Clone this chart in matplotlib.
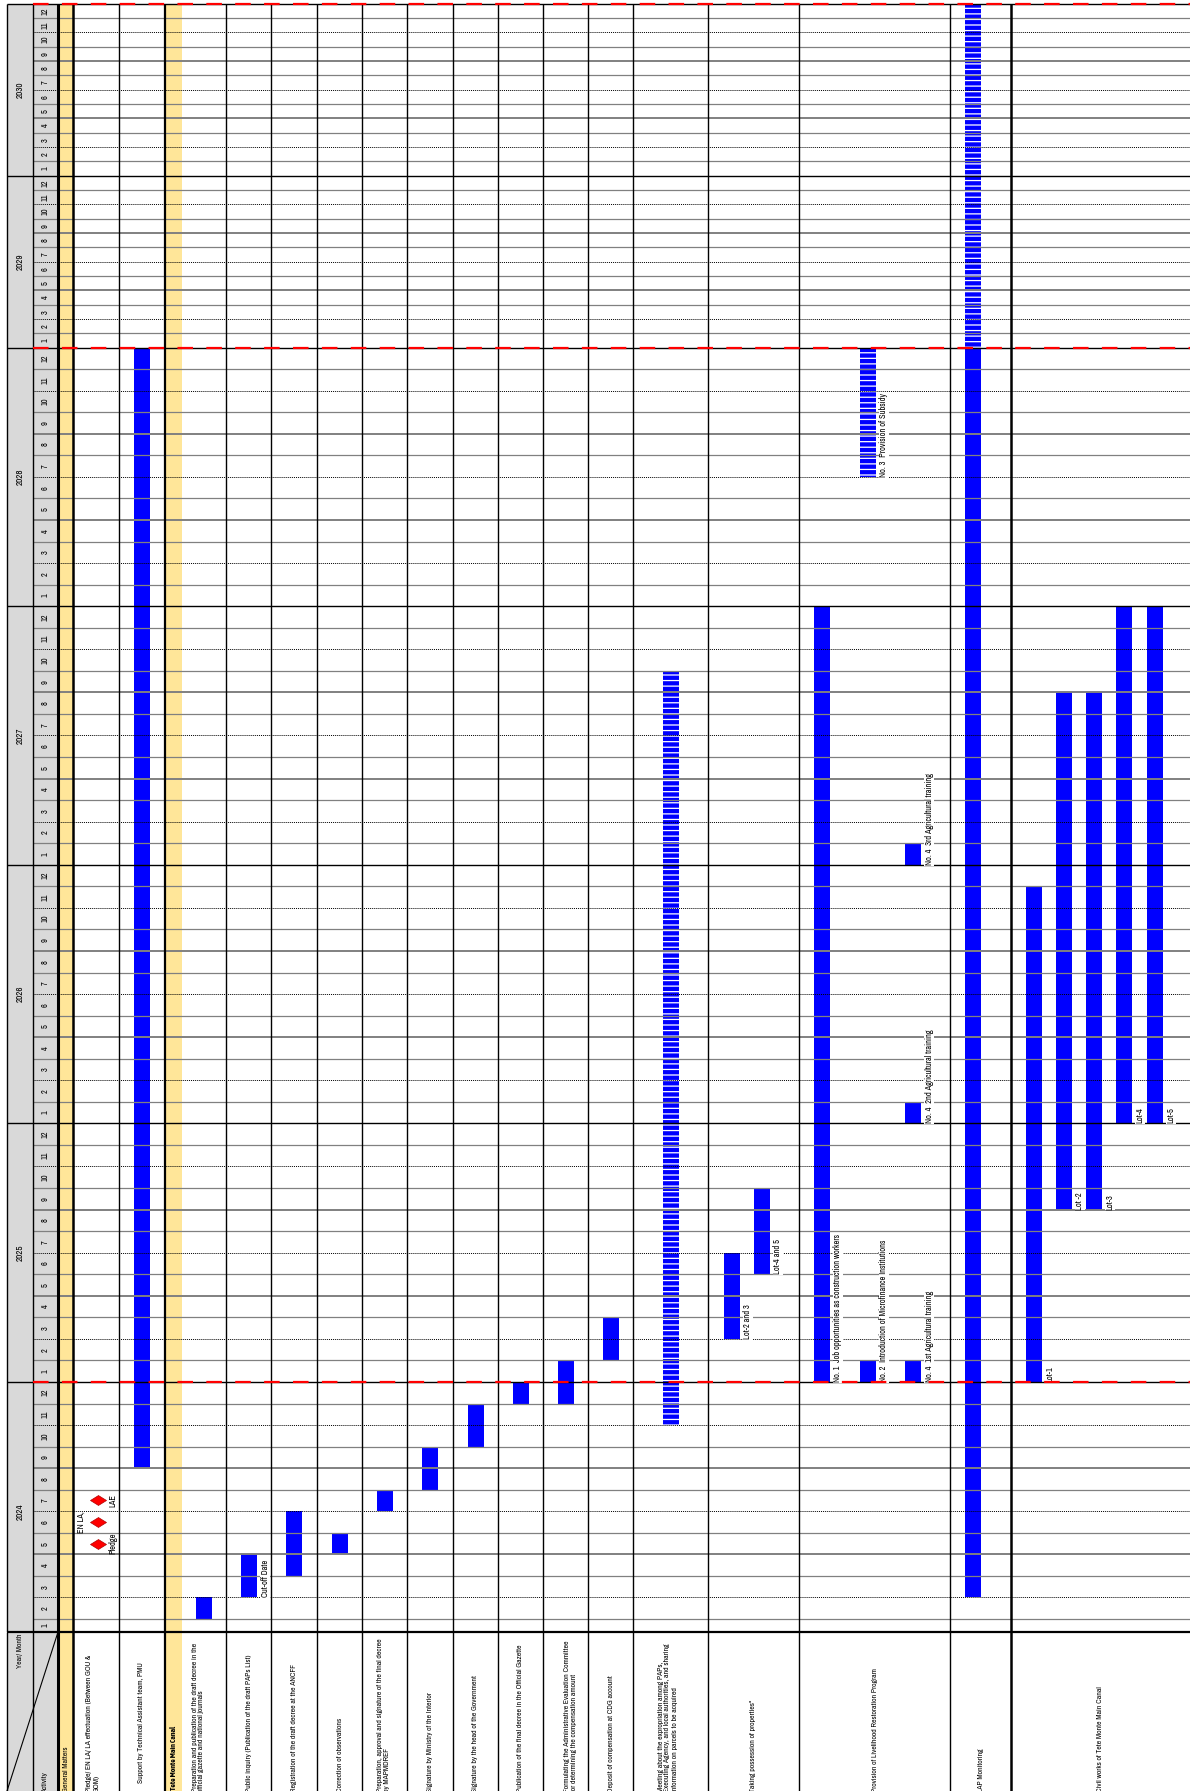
import numpy as np
import matplotlib
matplotlib.use("Agg")
import matplotlib.pyplot as plt
from matplotlib import font_manager
from matplotlib.path import Path

# ---------------- data ----------------
years = [2024, 2025, 2026, 2027, 2028, 2029, 2030]
month_numbers = list(range(1, 13))

activities = [
    "General Matters",
    "Pledge/ EN LA/ LA effectuation (Between GOU &\nGOM)",
    "Support by Technical Assistant team, PMU",
    "Tete Monte Main Canal",
    "Preparation and publication of the draft decree in the\nofficial gazette and national journals",
    "Public inquiry (Publication of the draft PAPs List)",
    "Registration of the draft decree at the ANCFF",
    "Correction of observations",
    "Preparation, approval and signature of the final decree\nby MAPMDREF",
    "Signature by Ministry of the Interior",
    "Signature by the head of the Government",
    "Publication of the final decree in the Official Gazette",
    "Formulating the Administrative Evaluation Committee\nfor determining the compensation amount",
    "Deposit of compensation at CDG account",
    "Meeting about the expropriation among PAPs,\nExecuting Agency, and local authorities, and sharing\ninformation on parcels to be acquired",
    "Taking possession of properties*",
    "Provision of Livelihood Restoration Program",
    "LAP Monitoring",
    "Civil works of Tete Monte Main Canal",
]
section_rows = [0, 3]

# months counted from the start of Jan 2024
task_activity = [2, 17, 17, 4, 5, 6, 7, 8, 9, 10, 11, 12, 13, 14, 15, 15,
                 16, 16, 16, 16, 16, 16, 18, 18, 18, 18, 18]
task_start = [8, 2, 60, 1, 2, 3, 4, 6, 7, 9, 11, 11, 13, 10, 14, 17,
              12, 12, 12, 24, 36, 54, 12, 20, 20, 24, 24]
task_end = [60, 60, 84, 2, 4, 6, 5, 7, 9, 11, 12, 13, 15, 45, 18, 21,
            48, 13, 13, 25, 37, 60, 35, 44, 44, 48, 48]
task_striped = [False, False, True, False, False, False, False, False, False, False, False, False, False, True, False, False,
                False, False, False, False, False, True, False, False, False, False, False]
task_label = ["", "", "", "", "Cut-off Date", "", "", "", "", "", "", "", "", "", "Lot-2 and 3", "Lot-4 and 5",
              "No. 1  Job opportunities as construction workers",
              "No. 2  Introduction of Microfinance Institutions",
              "No. 4  1st Agricultural training",
              "No. 4  2nd Agricultural training",
              "No. 4  3rd Agricultural training",
              "No. 3  Provision of Subsidy",
              "Lot-1", "Lot -2", "Lot-3", "Lot-4", "Lot-5"]

milestone_month = [5, 6, 7]          # 2024
milestone_label = ["Pledge", "EN LA,", "LAE"]

# ---------------- layout ----------------
W, H = 1190, 1791
HEADER_TOP = 1632
col_edges = [7, 33, 58, 73, 119, 165, 182, 226, 271, 317, 362, 407, 453, 498,
             543, 588, 633, 708, 799, 950, 1011, 1190]
edge_lw = [1.0, 1.0, 2.2, 1.8, 1.0, 1.6, 0, 1.0, 1.0, 1.0, 1.0, 1.0, 1.0, 1.0,
           1.0, 1.0, 1.0, 1.0, 1.0, 1.0, 1.8, 0]
label_dx = [0, -3, -1, 0, -6, 0, 0, 0, -1, 0, 0, 0, 5, 0, -3, 0, 0, 0, 0]
bar_x = [142, 973, 973, 204, 249, 294, 340, 385, 430, 475.5, 520.5, 565.5, 611, 671, 732, 762,
         822, 868, 913, 913, 913, 868, 1034, 1064, 1094, 1124, 1155]
BAR_W = 16
row_h = np.array([13.0] + [21.55] * 59 + [14.33] * 24)

GRAY = "#d9d9d9"
YELLOW = "#ffe699"
BLUE = "#0000ff"

names = {f.name for f in font_manager.fontManager.ttflist}
narrow = next((n for n in ["Archivo Narrow", "PT Sans Narrow", "Liberation Sans Narrow"] if n in names),
              "Liberation Sans")
bold_narrow = "Asap Condensed" if "Asap Condensed" in names else narrow
plt.rcParams["font.family"] = [narrow, "DejaVu Sans"]
plt.rcParams["hatch.linewidth"] = 0.9
FS = 6.0
HFS = 5.5

fig = plt.figure(figsize=(W / 100, H / 100), dpi=100)
ax = fig.add_axes([0, (H - HEADER_TOP) / H, 1, HEADER_TOP / H])
hx = fig.add_axes([0, 0, 1, (H - HEADER_TOP) / H])

# month index -> pixel height, so rows can have their own heights
edges_px = np.concatenate([[0.0], np.cumsum(row_h)])
knot_m = np.concatenate([[-50.0], np.arange(85.0), [150.0]])
knot_p = np.concatenate([[-50 * 21.55], edges_px, [edges_px[-1] + 66 * 14.33]])
ax.set_yscale("function", functions=(lambda m: np.interp(m, knot_m, knot_p),
                                     lambda p: np.interp(p, knot_p, knot_m)))

# background columns
ax.fill_betweenx([0, 84], 7, 58, color=GRAY, lw=0, zorder=0)
for r in section_rows:
    ax.fill_betweenx([0, 84], col_edges[r + 2], col_edges[r + 3], color=YELLOW, lw=0, zorder=0)

# bars
for a, s, e, st, bx in zip(task_activity, task_start, task_end, task_striped, bar_x):
    if st:
        ax.bar(bx, e - s, bottom=s, width=BAR_W, color=BLUE, edgecolor="white",
               linewidth=0, hatch="---", zorder=2)
    else:
        ax.bar(bx, e - s, bottom=s, width=BAR_W, color=BLUE, linewidth=0, zorder=2)

# month rows
for k in range(1, 84):
    if k % 12 == 0:
        continue
    if k % 4 == 2:
        ax.hlines(k, 33, W, color="black", lw=0.7, linestyles=(0, (1, 1)), zorder=3)
    elif k % 4 == 0:
        ax.hlines(k, 33, W, color="#808080", lw=1.4, zorder=3)
    else:
        ax.hlines(k, 33, W, color="#808080", lw=0.9, zorder=3)
for k in range(0, 85, 12):
    ax.hlines(k, 7, W, color="black", lw=1.6 if k == 0 else 1.0, zorder=3)

for x, lw in zip(col_edges, edge_lw):
    if lw:
        ax.vlines(x, 0, 84, color="black", lw=lw, zorder=3)
        hx.vlines(x, HEADER_TOP, H, color="black", lw=lw, zorder=3)

# red dashed markers
for k in (12, 60, 84):
    ax.hlines(k, 33, W, color="#ff0000", lw=1.6, linestyles=(0, (7, 6)), zorder=6)

# year / month labels
for i, y in enumerate(years):
    ax.text(20, 12 * i + 6, str(y), rotation=90, ha="center", va="center", fontsize=6.5)
    for j, m in enumerate(month_numbers):
        ax.text(45.5, 12 * i + j + 0.5, str(m), rotation=90, ha="center", va="center", fontsize=6)

# bar labels
for s, bx, lab in zip(task_start, bar_x, task_label):
    if lab:
        ax.text(bx + 16, s, lab, rotation=90, rotation_mode="anchor", ha="left", va="center",
                fontsize=FS, zorder=5,
                bbox=dict(boxstyle="square,pad=0.1", fc="white", ec="none"))

# milestones
diamond = Path([(-1, 0), (0, 0.62), (1, 0), (0, -0.62), (-1, 0)],
               [Path.MOVETO, Path.LINETO, Path.LINETO, Path.LINETO, Path.CLOSEPOLY])
mm = np.array(milestone_month) - 0.5
ax.plot([98] * len(mm), mm, ls="none", marker=diamond, ms=11.5, mfc="#ff0000",
        mec="#b00000", mew=0.5, zorder=5)
for m, lab, dx in zip(mm, milestone_label, [15, -17, 15]):
    ax.text(98 + dx, m, lab, rotation=90, ha="center", va="center", fontsize=FS, zorder=5)

ax.set_xlim(0, W)
ax.set_ylim(0, np.interp(HEADER_TOP, knot_p, knot_m))
ax.axis("off")

# ---------------- header row ----------------
hx.set_xlim(0, W)
hx.set_ylim(H, HEADER_TOP)
hx.axis("off")
hx.fill_between([7, 58], HEADER_TOP, H, color=GRAY, lw=0, zorder=0)
for r in section_rows:
    hx.fill_between([col_edges[r + 2], col_edges[r + 3]], HEADER_TOP, H, color=YELLOW, lw=0, zorder=0)
hx.plot([7, 58], [H, HEADER_TOP], color="black", lw=0.8)
hx.hlines(HEADER_TOP, 7, W, color="black", lw=1.6, zorder=3)
hx.text(20, HEADER_TOP + 2, "Year/ Month", rotation=90, rotation_mode="anchor",
        ha="right", va="center", fontsize=HFS)
hx.text(45, H + 2, "Activity", rotation=90, rotation_mode="anchor",
        ha="left", va="center", fontsize=HFS)

for i, (lab, dx) in enumerate(zip(activities, label_dx)):
    lx = (col_edges[i + 2] + col_edges[i + 3]) / 2 + dx
    start = H + 1 if i != 2 else H - 8
    if i == 3:
        hx.text(lx, H - 1, lab, rotation=90, rotation_mode="anchor", ha="left", va="center",
                fontsize=HFS, fontweight="bold", family=[bold_narrow, "DejaVu Sans"])
    else:
        hx.text(lx, start, lab, rotation=90, rotation_mode="anchor", ha="left", va="center",
                fontsize=HFS, linespacing=1.2)

fig.savefig("out.png", dpi=100)
